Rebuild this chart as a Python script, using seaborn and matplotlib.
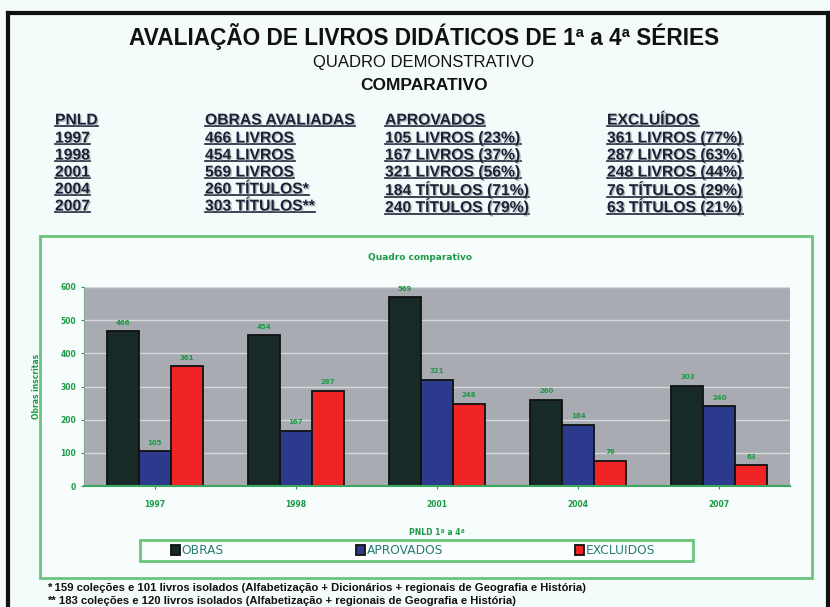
import pandas as pd
import matplotlib.pyplot as plt
import matplotlib.patheffects as pe
import seaborn as sns

# dados do quadro comparativo
anos = ['1997', '1998', '2001', '2004', '2007']
obras = [466, 454, 569, 260, 303]
aprovados = [105, 167, 321, 184, 240]
excluidos = [361, 287, 248, 76, 63]
series = ['OBRAS', 'APROVADOS', 'EXCLUIDOS']

tabela_cab = ['PNLD', 'OBRAS AVALIADAS', 'APROVADOS', 'EXCLUÍDOS']
tabela_obras = ['466 LIVROS', '454 LIVROS', '569 LIVROS', '260 TÍTULOS*', '303 TÍTULOS**']
tabela_aprov = ['105 LIVROS (23%)', '167 LIVROS (37%)', '321 LIVROS (56%)',
                '184 TÍTULOS (71%)', '240 TÍTULOS (79%)']
tabela_excl = ['361 LIVROS (77%)', '287 LIVROS (63%)', '248 LIVROS (44%)',
               '76 TÍTULOS (29%)', '63 TÍTULOS (21%)']

notas = ['* 159 coleções e 101 livros isolados (Alfabetização + Dicionários + regionais de Geografia e História)',
         '** 183 coleções e 120 livros isolados (Alfabetização + regionais de Geografia e História)']

df = pd.DataFrame({'ano': anos * 3,
                   'serie': [s for s in series for _ in anos],
                   'valor': obras + aprovados + excluidos})

cores = {'OBRAS': '#182a28', 'APROVADOS': '#2b3a8c', 'EXCLUIDOS': '#f02424'}
verde = '#1c9a45'
fundo = '#f4fbfb'
fonte = 'Liberation Sans'

W, H = 830, 607
fig = plt.figure(figsize=(8.3, 6.07), dpi=100, facecolor=fundo)

def fx(x):
    return x / W

def fy(y):
    return 1 - y / H

# moldura externa preta
fig.add_artist(plt.Line2D([fx(8), fx(8)], [0, fy(13)], color='#111111', lw=3))
fig.add_artist(plt.Line2D([fx(8), fx(828)], [fy(13), fy(13)], color='#111111', lw=3))
fig.add_artist(plt.Line2D([fx(828), fx(828)], [0, fy(13)], color='#111111', lw=3))

# titulos
fig.text(fx(424), fy(37), 'AVALIAÇÃO DE LIVROS DIDÁTICOS DE 1ª a 4ª SÉRIES', ha='center', va='center',
         fontsize=16.3, fontweight='bold', family=fonte, color='#111111')
fig.text(fx(424), fy(62), 'QUADRO DEMONSTRATIVO', ha='center', va='center',
         fontsize=12, family=fonte, color='#111111')
fig.text(fx(424), fy(86), 'COMPARATIVO', ha='center', va='center',
         fontsize=12.5, fontweight='bold', family=fonte, color='#111111')

# tabela sublinhada
sombra = [pe.SimplePatchShadow(offset=(1, -1), shadow_rgbFace='#8a9090', alpha=0.6), pe.Normal()]
col_x = [55, 205, 385, 607]
lin_y = [120, 138, 155, 172, 189, 206]
linhas = [tabela_cab] + [[a, o, p, e] for a, o, p, e in zip(anos, tabela_obras, tabela_aprov, tabela_excl)]
textos = []
for i, linha in enumerate(linhas):
    for j, txt in enumerate(linha):
        t = fig.text(fx(col_x[j]), fy(lin_y[i]), txt, ha='left', va='center', fontsize=11.3,
                     fontweight='bold', family=fonte, color='#1a2238', path_effects=sombra)
        textos.append(t)

fig.canvas.draw()
rend = fig.canvas.get_renderer()
for t in textos:
    bb = t.get_window_extent(rend).transformed(fig.transFigure.inverted())
    fig.add_artist(plt.Line2D([bb.x0, bb.x1], [bb.y0 + 0.002, bb.y0 + 0.002], color='#1a2238', lw=1.2))

# caixa do grafico
fig.add_artist(plt.Rectangle((fx(40), fy(578)), fx(812) - fx(40), fy(236) - fy(578),
                             transform=fig.transFigure, facecolor='#f7fcfc', edgecolor='#6cc47c',
                             lw=2, zorder=-1))
fig.text(fx(420), fy(257), 'Quadro comparativo', ha='center', va='center',
         fontsize=6.5, fontweight='bold', color=verde)

ax = fig.add_axes([fx(84), fy(486), fx(790) - fx(84), fy(287) - fy(486)])
ax.set_facecolor('#a9abb2')
sns.barplot(data=df, x='ano', y='valor', hue='serie', palette=cores, width=0.68,
            edgecolor='#111111', linewidth=1.3, ax=ax, saturation=1)
for cont in ax.containers:
    ax.bar_label(cont, fontsize=5, fontweight='bold', color=verde, padding=4)

ax.set_ylim(0, 600)
ax.set_yticks(range(0, 601, 100))
ax.yaxis.grid(True, color='#d6d8dc', lw=1)
ax.set_axisbelow(True)
ax.tick_params(axis='both', colors=verde, labelsize=5.5, length=2)
for lbl in ax.get_xticklabels() + ax.get_yticklabels():
    lbl.set_fontweight('bold')
ax.tick_params(axis='x', pad=8)
ax.set_xlabel('PNLD 1ª a 4ª', fontsize=5.5, fontweight='bold', color=verde, labelpad=14)
ax.set_ylabel('Obras inscritas', fontsize=5.5, fontweight='bold', color=verde, labelpad=14)
for s in ['top', 'right']:
    ax.spines[s].set_visible(False)
ax.spines['left'].set_color('#8aa890')
ax.spines['bottom'].set_color('#3aa860')
ax.spines['bottom'].set_linewidth(1.5)

# legenda em caixa propria
fig.add_artist(plt.Rectangle((fx(140), fy(561)), fx(693) - fx(140), fy(540) - fy(561),
                             transform=fig.transFigure, facecolor='#fbfefe', edgecolor='#6cc47c',
                             lw=2, zorder=-0.5))
sns.move_legend(ax, loc='center', bbox_to_anchor=(fx(413), fy(550.5)),
                bbox_transform=fig.transFigure, ncol=3, title=None, frameon=False,
                fontsize=8.8, handlelength=0.75, handleheight=0.9, handletextpad=0.15,
                columnspacing=10.8)
leg = ax.get_legend()
for t in leg.get_texts():
    t.set_color('#2a7c74')

# notas de rodape
fig.text(fx(47), fy(588), notas[0], ha='left', va='center', fontsize=8.1, fontweight='bold',
         family=fonte, color='#111111')
fig.text(fx(47), fy(601), notas[1], ha='left', va='center', fontsize=8.1, fontweight='bold',
         family=fonte, color='#111111')

fig.savefig('out.png', dpi=100, facecolor=fundo)
